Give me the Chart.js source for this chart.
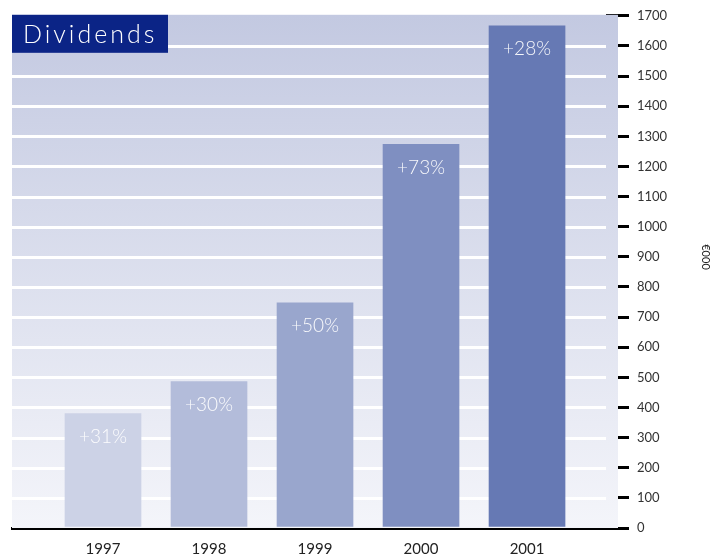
<!DOCTYPE html>
<html>
<head>
<meta charset="utf-8">
<script src="https://cdn.jsdelivr.net/npm/chart.js@4"></script>
<style>
  html, body { margin: 0; padding: 0; background: #ffffff; }
  #chart { display: block; }
</style>
</head>
<body>
<canvas id="chart" width="726" height="555"></canvas>
<script>
// chart data
const years = [1997, 1998, 1999, 2000, 2001];
const dividends = [380, 486, 747, 1273, 1667];
const growth = ['+31%', '+30%', '+50%', '+73%', '+28%'];
const barColors = ['#ccd2e6', '#b3bcda', '#99a6cd', '#7f8fc1', '#6679b4'];
const chartTitle = 'Dividends';
const unitLabel = '€000';

const FONT = 'Lato, "Open Sans", sans-serif';

// gradient panel, white grid lines and title box behind the bars
const backdropPlugin = {
    id: 'backdrop',
    beforeDatasetsDraw(chart) {
        const ctx = chart.ctx;
        const area = chart.chartArea;
        const yScale = chart.scales.y;

        ctx.save();
        const grad = ctx.createLinearGradient(0, area.top, 0, area.bottom);
        grad.addColorStop(0, '#c3c9e1');
        grad.addColorStop(1, '#f4f5fa');
        ctx.fillStyle = grad;
        ctx.fillRect(area.left, area.top - 1, area.right - area.left + 12, area.bottom - area.top + 1);

        ctx.strokeStyle = '#ffffff';
        ctx.lineWidth = 3;
        yScale.ticks.forEach(t => {
            if (t.value === 0 || t.value === yScale.max) return;
            const y = Math.round(yScale.getPixelForValue(t.value)) + 0.5;
            ctx.beginPath();
            ctx.moveTo(area.left, y);
            ctx.lineTo(area.right, y);
            ctx.stroke();
        });

        // title box
        ctx.fillStyle = '#0b2486';
        ctx.fillRect(area.left, area.top - 1, 156, 38);
        ctx.fillStyle = '#ffffff';
        ctx.font = '300 25px ' + FONT;
        ctx.letterSpacing = '3px';
        ctx.textBaseline = 'alphabetic';
        ctx.textAlign = 'left';
        ctx.fillText(chartTitle, area.left + 11, area.top + 27);
        ctx.letterSpacing = '0px';
        ctx.restore();
    },
    afterDatasetsDraw(chart) {
        const ctx = chart.ctx;
        const meta = chart.getDatasetMeta(0);
        ctx.save();
        ctx.fillStyle = 'rgba(255,255,255,0.94)';
        ctx.font = '300 19px ' + FONT;
        ctx.textAlign = 'center';
        ctx.textBaseline = 'middle';
        meta.data.forEach((bar, i) => {
            ctx.fillText(growth[i], bar.x, bar.y + 23);
        });
        ctx.restore();
    },
    afterDraw(chart) {
        // rotated unit label on the far right
        const ctx = chart.ctx;
        ctx.save();
        ctx.translate(706, 257);
        ctx.rotate(Math.PI / 2);
        ctx.fillStyle = '#222222';
        ctx.font = '11px ' + FONT;
        ctx.textAlign = 'center';
        ctx.textBaseline = 'middle';
        ctx.fillText(unitLabel, 0, 0);
        ctx.restore();
    }
};

const ctx = document.getElementById('chart').getContext('2d');
new Chart(ctx, {
    type: 'bar',
    data: {
        datasets: [{
            label: chartTitle,
            data: years.map((yr, i) => ({ x: yr, y: dividends[i] })),
            backgroundColor: barColors,
            borderWidth: 0,
            barThickness: 76
        }]
    },
    options: {
        responsive: false,
        animation: false,
        layout: { padding: { left: 12, top: 12, right: 0, bottom: 0 } },
        plugins: {
            legend: { display: false },
            title: { display: false },
            tooltip: { enabled: false }
        },
        scales: {
            x: {
                type: 'linear',
                offset: false,
                min: 1996.1415,
                max: 2001.745,
                grid: { display: false, drawTicks: false },
                border: { display: true, color: '#000000', width: 3 },
                ticks: {
                    stepSize: 1,
                    includeBounds: false,
                    padding: 12,
                    color: '#222222',
                    font: { family: FONT, size: 15 },
                    callback: v => Number.isInteger(v) ? String(v) : ''
                },
                afterFit(scale) { scale.height = 27; }
            },
            y: {
                position: 'right',
                min: 0,
                max: 1700,
                grid: {
                    drawOnChartArea: false,
                    drawTicks: true,
                    tickLength: 23,
                    color: '#000000',
                    lineWidth: 3
                },
                border: { display: false },
                ticks: {
                    stepSize: 100,
                    padding: 8,
                    color: '#333333',
                    font: { family: FONT, size: 13 },
                    callback: v => String(v)
                },
                afterFit(scale) { scale.width = 120; }
            }
        }
    },
    plugins: [backdropPlugin]
});
</script>
</body>
</html>
